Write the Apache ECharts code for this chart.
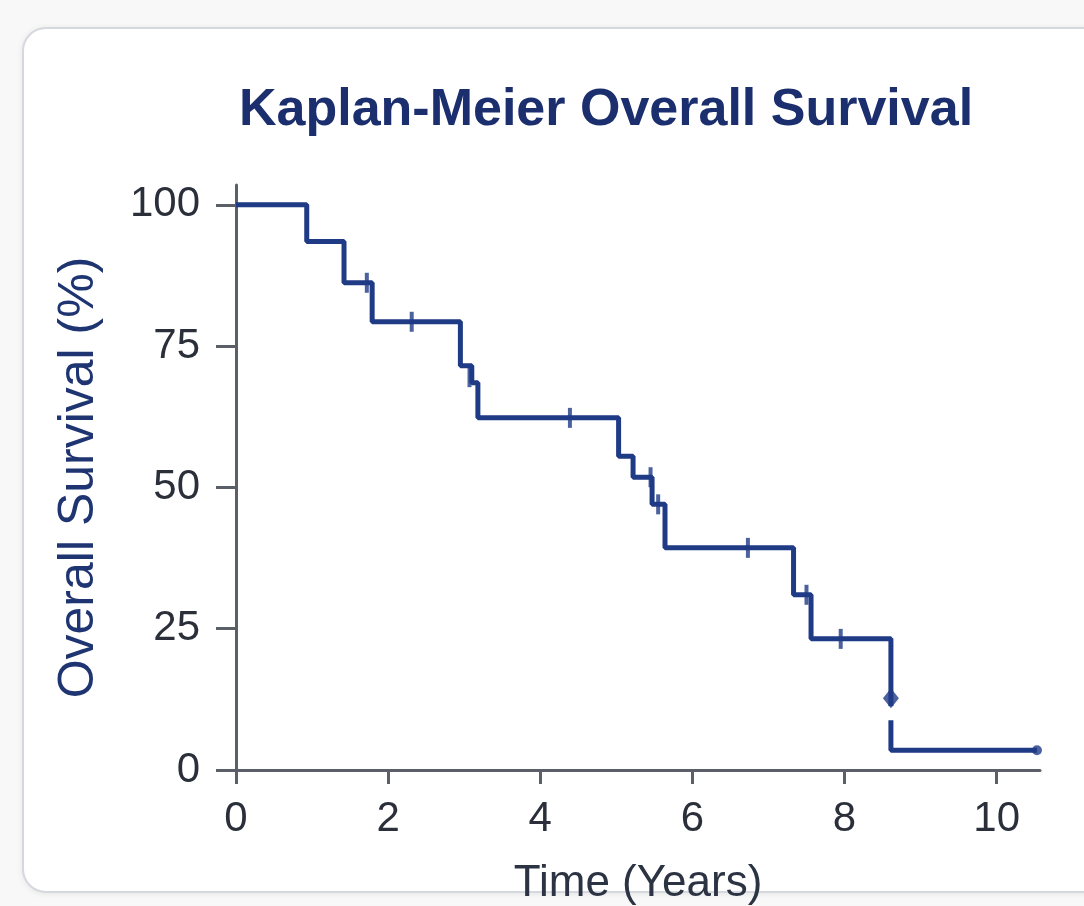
<!DOCTYPE html>
<html>
<head>
<meta charset="utf-8">
<script src="https://cdn.jsdelivr.net/npm/echarts@6/dist/echarts.min.js"></script>
<style>
  html, body { margin:0; padding:0; width:1084px; height:906px; background:#f8f8f9; overflow:hidden; }
  #card { position:absolute; left:22px; top:27px; width:1100px; height:862px; background:#fff;
          border:2px solid #d5d8dd; border-radius:24px; box-shadow:0 1px 6px rgba(0,0,0,0.08); }
  #chart { position:absolute; left:0; top:0; width:1084px; height:906px; }
</style>
</head>
<body>
<div id="card"></div>
<div id="chart"></div>
<script>
// Kaplan-Meier step points (time in years, survival %)
const times    = [0, 0.93, 1.42, 1.79, 2.95, 3.10, 3.18, 5.03, 5.22, 5.47, 5.64, 7.33, 7.56, 8.61, 10.53];
const survival = [100, 93.5, 86.2, 79.3, 71.5, 68.5, 62.3, 55.5, 51.8, 47.0, 39.3, 31.0, 23.2, 3.5, 3.5];
// censoring marks
const censorTimes = [1.72, 2.31, 3.07, 4.39, 5.45, 5.55, 6.73, 7.50, 7.95];
const censorSurv  = [86.2, 79.3, 69.5, 62.3, 51.8, 47.0, 39.3, 31.0, 23.2];
// special marks on the final drop
const diamondPoint = [8.61, 12.7];
const gapSegment = [[8.61, 11.3], [8.61, 8.8]];
const endPoint = [10.53, 3.5];
const xTicks = [0, 2, 4, 6, 8, 10];
const yTicks = [0, 25, 50, 75, 100];

const navy = '#1f3b86';
const font = 'Liberation Sans, Arial, sans-serif';
const chart = echarts.init(document.getElementById('chart'));
chart.setOption({
  backgroundColor: 'transparent',
  animation: false,
  title: {
    text: 'Kaplan-Meier Overall Survival',
    left: 234, top: 80,
    textStyle: { color: '#1b2e6e', fontSize: 52, fontWeight: 'bold', fontFamily: font }
  },
  grid: { left: 236, right: 44, top: 185, bottom: 136, containLabel: false, outerBoundsMode: 'none' },
  xAxis: {
    type: 'value', min: 0, max: 10.57,
    name: 'Time (Years)', nameLocation: 'middle', nameGap: 92,
    nameTextStyle: { color: '#2c3444', fontSize: 44, fontFamily: font },
    axisLine: { lineStyle: { color: '#5a5f68', width: 3 } },
    axisTick: { show: true, length: 14, lineStyle: { color: '#5a5f68', width: 3 }, customValues: xTicks },
    axisLabel: { customValues: xTicks, color: '#2a2f3a', fontSize: 42, margin: 28, fontFamily: font },
    splitLine: { show: false }
  },
  yAxis: {
    type: 'value', min: 0, max: 103.5,
    name: 'Overall Survival (%)', nameLocation: 'middle', nameGap: 132,
    nameTextStyle: { color: '#1f3572', fontSize: 50, fontFamily: font },
    axisLine: { show: true, lineStyle: { color: '#5a5f68', width: 3 } },
    axisTick: { show: true, length: 20, lineStyle: { color: '#5a5f68', width: 3 }, customValues: yTicks },
    axisLabel: { customValues: yTicks, color: '#2a2f3a', fontSize: 42, margin: 36, fontFamily: font },
    splitLine: { show: false }
  },
  series: [
    {
      type: 'line', step: 'end', showSymbol: false,
      data: times.map((t, i) => [t, survival[i]]),
      lineStyle: { color: navy, width: 5 }, z: 3
    },
    {
      type: 'line', showSymbol: false, data: gapSegment,
      lineStyle: { color: '#ffffff', width: 8 }, z: 4
    },
    {
      type: 'scatter', data: censorTimes.map((t, i) => [t, censorSurv[i]]),
      symbol: 'rect', symbolSize: [4, 20], itemStyle: { color: navy }, z: 5
    },
    {
      type: 'scatter', data: [diamondPoint], symbol: 'diamond', symbolSize: [16, 20],
      itemStyle: { color: navy }, z: 5
    },
    {
      type: 'scatter', data: [endPoint], symbol: 'circle', symbolSize: 10,
      itemStyle: { color: navy }, z: 5
    }
  ]
});
</script>
</body>
</html>
